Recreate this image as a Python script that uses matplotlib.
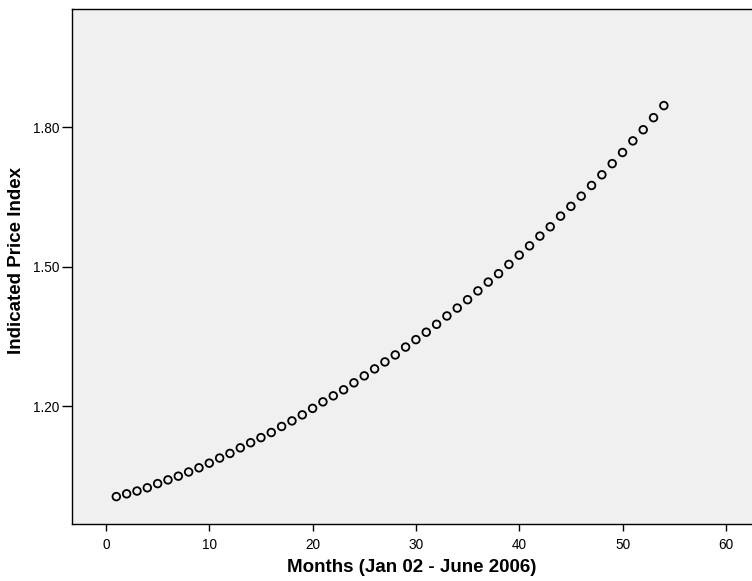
import numpy as np
import matplotlib
matplotlib.use("Agg")
import matplotlib.pyplot as plt
from matplotlib.ticker import FormatStrFormatter

plt.rcParams['font.family'] = ['Liberation Sans', 'DejaVu Sans']

# month number and indicated price index
months = np.arange(1, 55)
price_index = [
    1.005, 1.011, 1.017, 1.024, 1.033, 1.041, 1.049, 1.058, 1.067, 1.077,
    1.088, 1.098, 1.110, 1.121, 1.132, 1.143, 1.156, 1.168, 1.181, 1.195,
    1.209, 1.222, 1.235, 1.250, 1.265, 1.280, 1.295, 1.310, 1.327, 1.343,
    1.359, 1.376, 1.394, 1.411, 1.429, 1.448, 1.467, 1.485, 1.505, 1.525,
    1.545, 1.566, 1.586, 1.609, 1.630, 1.652, 1.675, 1.698, 1.722, 1.746,
    1.771, 1.795, 1.821, 1.847,
]
x_ticks = [0, 10, 20, 30, 40, 50, 60]
y_ticks = [1.20, 1.50, 1.80]

W, H = 752, 581
fig = plt.figure(figsize=(W / 100, H / 100), dpi=100)
# axes box runs past the right edge of the picture, like the original
left, right, top, bottom = 72, 762, 9, 524
ax = fig.add_axes([left / W, 1 - bottom / H, (right - left) / W, (bottom - top) / H])
ax.set_facecolor('#f0f0f0')

ax.scatter(months, price_index, s=30, facecolors='none', edgecolors='black',
           linewidths=1.3, zorder=3)

ax.set_xlim(-3.29, 63.5)
ax.set_ylim(0.946, 2.055)
ax.set_xticks(x_ticks)
ax.set_yticks(y_ticks)
ax.yaxis.set_major_formatter(FormatStrFormatter('%.2f'))

for s in ax.spines.values():
    s.set_color('black')
    s.set_linewidth(1.0)

ax.tick_params(axis='x', length=5, width=1, pad=5, labelsize=9.8)
ax.tick_params(axis='y', length=7, width=1, pad=2, labelsize=9.8)

ax.set_xlabel('Months (Jan 02 - June 2006)', fontsize=13.5, fontweight='bold')
ax.set_ylabel('Indicated Price Index', fontsize=13.5, fontweight='bold')
ax.xaxis.set_label_coords((412 - left) / (right - left), -(559 - bottom) / (bottom - top))
ax.yaxis.set_label_coords(-(72 - 25) / (right - left), (bottom - 261) / (bottom - top))

fig.savefig('out.png', dpi=100)
